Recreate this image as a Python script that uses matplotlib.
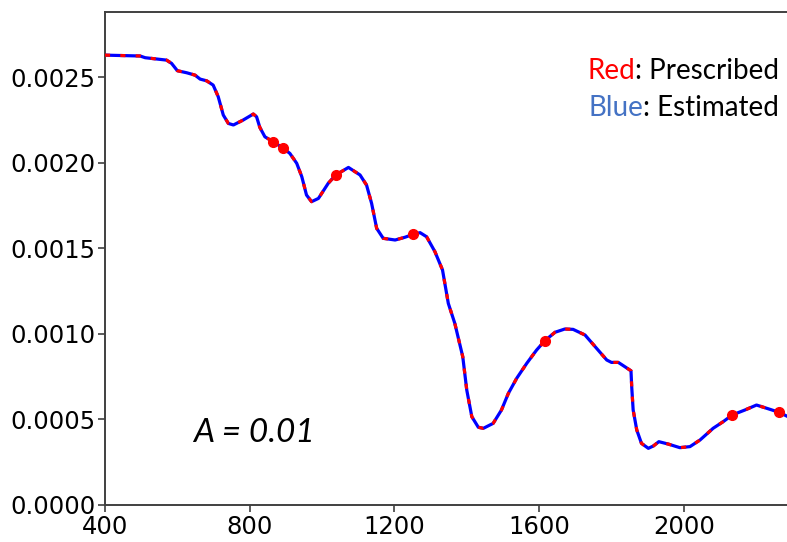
import numpy as np
import matplotlib.pyplot as plt

# ==============================================================
# data
wavelength = [400, 497, 511, 570, 584, 600, 626, 649, 663, 681, 699, 713, 727, 741,
              755, 782, 810, 819, 828, 842, 865, 891, 911, 930, 944, 957, 971, 990,
              1017, 1038, 1073, 1105, 1123, 1137, 1151, 1169, 1202, 1229, 1252, 1271,
              1289, 1312, 1333, 1349, 1367, 1389, 1400, 1414, 1432, 1446, 1473, 1496,
              1515, 1538, 1566, 1593, 1616, 1644, 1671, 1694, 1727, 1759, 1787, 1800,
              1819, 1837, 1854, 1856, 1860, 1870, 1883, 1902, 1916, 1931, 1957, 1989,
              2017, 2045, 2081, 2109, 2134, 2169, 2201, 2238, 2264, 2284]
absorption = [0.002628, 0.002623, 0.002613, 0.002599, 0.002580, 0.002537, 0.002525,
              0.002511, 0.002488, 0.002478, 0.002453, 0.002385, 0.002278, 0.002229,
              0.002220, 0.002249, 0.002284, 0.002268, 0.002206, 0.002151, 0.002122,
              0.002087, 0.002054, 0.001996, 0.001918, 0.001811, 0.001772, 0.001791,
              0.001879, 0.001928, 0.001972, 0.001928, 0.001869, 0.001762, 0.001616,
              0.001558, 0.001548, 0.001564, 0.001581, 0.001591, 0.001567, 0.001480,
              0.001373, 0.001178, 0.001061, 0.000866, 0.000672, 0.000516, 0.000454,
              0.000448, 0.000477, 0.000555, 0.000652, 0.000740, 0.000828, 0.000905,
              0.000960, 0.001009, 0.001028, 0.001026, 0.000993, 0.000915, 0.000847,
              0.000833, 0.000833, 0.000808, 0.000784, 0.000691, 0.000555, 0.000438,
              0.000360, 0.000331, 0.000345, 0.000370, 0.000356, 0.000335, 0.000341,
              0.000380, 0.000448, 0.000487, 0.000526, 0.000555, 0.000584, 0.000559,
              0.000541, 0.000520]

# prescribed points
pts_x = [865, 891, 1038, 1252, 1616, 2134, 2264]
pts_y = [0.002122, 0.002087, 0.001928, 0.001581, 0.000960, 0.000526, 0.000541]

xticks = [400, 800, 1200, 1600, 2000]
yticks = [0.0, 0.0005, 0.0010, 0.0015, 0.0020, 0.0025]

# ==============================================================
# Visualization
TICKSFONT = 17.5
NOTEFONT = 20
FIGW, FIGH = 787, 542

f = plt.figure(figsize=(FIGW / 100, FIGH / 100), dpi=100)
ax = f.add_axes([105 / FIGW, 37 / FIGH, (800 - 105) / FIGW, (505 - 12) / FIGH])

ax.plot(wavelength, absorption, color='blue', lw=2.3, zorder=2)
ax.plot(wavelength, absorption, color='red', lw=2.3, dashes=(1.6, 3.2), zorder=3)
ax.plot(pts_x, pts_y, 'o', color='red', ms=7, zorder=4)

ax.set_xlim(400, 400 + (800 - 105) / (144.7 / 400))
ax.set_ylim(0, 0.00288)
ax.set_xticks(xticks)
ax.set_yticks(yticks)
ax.set_yticklabels([f"{v:.4f}" for v in yticks])
ax.tick_params(labelsize=TICKSFONT, length=5, width=1.2, color='#404040', pad=2)
for s in ax.spines.values():
    s.set_color('#404040')
    s.set_linewidth(1.4)

# annotations
f.text(779 / FIGW, 1 - 71 / FIGH, ": Prescribed", family='Lato', fontsize=NOTEFONT,
       ha='right', va='center')
f.text(779 / FIGW, 1 - 108 / FIGH, ": Estimated", family='Lato', fontsize=NOTEFONT,
       ha='right', va='center')
f.canvas.draw()
r = f.canvas.get_renderer()
t1 = f.texts[0].get_window_extent(r)
t2 = f.texts[1].get_window_extent(r)
f.text(t1.x0 / FIGW, 1 - 71 / FIGH, "Red", family='Lato', fontsize=NOTEFONT, color='red',
       ha='right', va='center')
f.text(t2.x0 / FIGW, 1 - 108 / FIGH, "Blue", family='Lato', fontsize=NOTEFONT,
       color='#4472C4', ha='right', va='center')

f.text(193 / FIGW, 1 - 433 / FIGH, "A = 0.01", family='Lato', style='italic',
       fontsize=24, ha='left', va='center')

f.savefig("out.png", dpi=100)
